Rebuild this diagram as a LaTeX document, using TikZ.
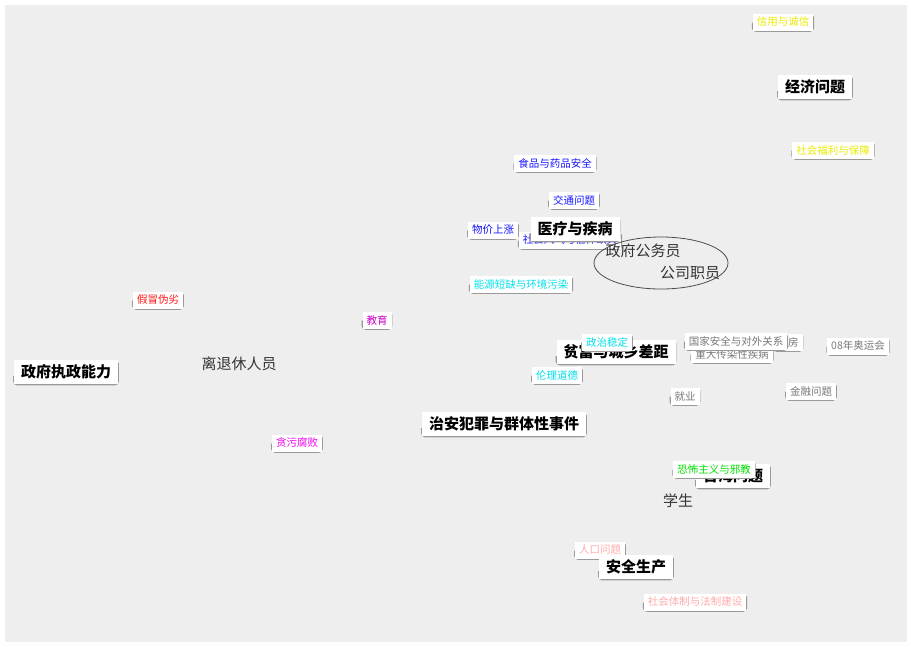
\documentclass[tikz,border=0pt]{standalone}
\usepackage{fontspec}
\setmainfont{Noto Sans CJK SC}
\usetikzlibrary{positioning}

\definecolor{tagblue}{RGB}{20,20,255}
\definecolor{tagyellow}{RGB}{235,235,0}
\definecolor{tagcyan}{RGB}{0,225,235}
\definecolor{tagred}{RGB}{255,20,20}
\definecolor{tagmagenta}{RGB}{240,0,240}
\definecolor{tagpurple}{RGB}{200,0,200}
\definecolor{taggray}{RGB}{120,120,120}
\definecolor{taggreen}{RGB}{0,225,0}
\definecolor{tagpink}{RGB}{255,170,170}
\definecolor{bggray}{RGB}{238,238,238}

\tikzset{
  tag/.style={fill=white, text=#1, inner xsep=4pt, inner ysep=0pt,
    minimum height=17pt, font=\fontsize{10.5}{12}\selectfont,
    append after command={\pgfextra{\draw[black!40, line width=1.4pt, rounded corners=3.5pt]
      ([yshift=8pt]\tikzlastnode.south west) |- ([yshift=-.5pt]\tikzlastnode.south east)
      -- ([yshift=-3pt]\tikzlastnode.north east);}}},
  bigtag/.style={tag=black, inner xsep=7pt, minimum height=24pt,
    font=\bfseries\fontsize{15}{17}\selectfont},
  person/.style={text=black!80, font=\fontsize{15}{17}\selectfont},
}

\begin{document}
\begin{tikzpicture}[x=1pt, y=-1pt]
  \useasboundingbox (0,0) rectangle (911,646);
  \fill[bggray] (5,5) rectangle (907,642);

  % upper right
  \node[tag=tagyellow] (credit) at (783,22) {信用与诚信};
  \node[bigtag] (economy) at (815,87) {经济问题};
  \node[tag=tagyellow] (welfare) at (833,150) {社会福利与保障};

  % middle cluster
  \node[tag=tagblue] (food) at (555,163) {食品与药品安全};
  \node[tag=tagblue] (traffic) at (574,200) {交通问题};
  \node[tag=tagblue] (faith) at (570,240) {社会风气与信仰缺失};
  \node[tag=tagblue] (prices) at (493,230) {物价上涨};
  \node[bigtag] (medical) at (575,229) {医疗与疾病};
  \node[tag=tagcyan] (energy) at (521,284) {能源短缺与环境污染};

  \draw[black!70, line width=.8pt] (661,263) ellipse [x radius=67pt, y radius=26pt];
  \node[person] (officials) at (643,251) {政府公务员};
  \node[person] (clerks) at (690,273) {公司职员};

  % left
  \node[tag=tagred] (fake) at (158,300) {假冒伪劣};
  \node[tag=tagpurple] (school) at (377,320) {教育};
  \node[bigtag] (govern) at (66,372) {政府执政能力};
  \node[person] (retired) at (239,364) {离退休人员};
  \node[tag=tagmagenta] (graft) at (297,443) {贪污腐败};

  % center right
  \node[bigtag] (gap) at (616,352) {贫富与城乡差距};
  \node[tag=tagcyan] (stability) at (607,342) {政治稳定};
  \node[tag=tagcyan] (ethics) at (557,375) {伦理道德};
  \node[tag=taggray] (epidemic) at (732,354) {重大传染性疾病};
  \node[tag=taggray] (housing) at (788,342) {住房};
  \node[tag=taggray] (security) at (736,341) {国家安全与对外关系};
  \node[tag=taggray] (olympics) at (858,346) {08年奥运会};
  \node[tag=taggray] (jobs) at (685,396) {就业};
  \node[tag=taggray] (finance) at (811,391) {金融问题};

  % lower
  \node[bigtag] (crime) at (504,424) {治安犯罪与群体性事件};
  \node[bigtag] (taiwan) at (733,476) {台海问题};
  \node[tag=taggreen] (terror) at (714,469) {恐怖主义与邪教};
  \node[person] (students) at (678,501) {学生};
  \node[tag=tagpink] (population) at (600,550) {人口问题};
  \node[bigtag] (worksafety) at (636,567) {安全生产};
  \node[tag=tagpink] (legal) at (695,602) {社会体制与法制建设};
\end{tikzpicture}
\end{document}
